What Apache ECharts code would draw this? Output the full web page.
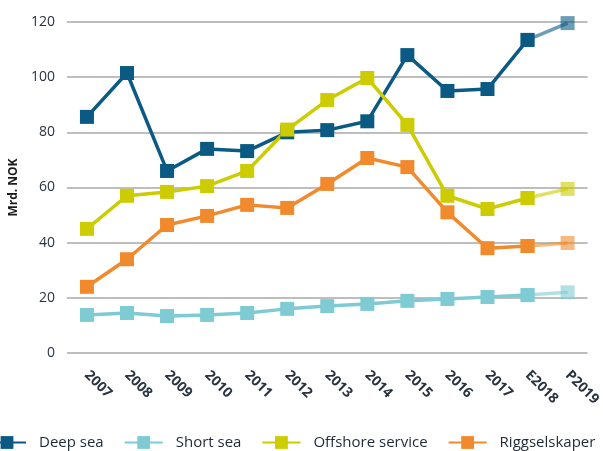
<!DOCTYPE html>
<html>
<head>
    <meta charset="utf-8"/>
    <title>Mrd. NOK</title>
    <style>
        html, body { margin: 0; padding: 0; background: #fff; }
        #chart { width: 603px; height: 451px; }
    </style>
</head>
<body>
<div id="chart"></div>
<script src="https://cdn.jsdelivr.net/npm/echarts@6/dist/echarts.min.js"></script>
<script>
    // 数据
    var years = ['2007', '2008', '2009', '2010', '2011', '2012', '2013', '2014', '2015', '2016', '2017', 'E2018', 'P2019'];
    var deepSea = [85.6, 101.5, 66, 74, 73.2, 80, 80.8, 84, 108, 95, 95.7, 113.5, 119.6];
    var shortSea = [13.8, 14.5, 13.4, 13.8, 14.5, 16, 17, 17.8, 18.9, 19.6, 20.3, 21, 22];
    var offshore = [45, 57, 58.4, 60.5, 66, 81, 91.7, 99.7, 82.7, 57, 52.2, 56.2, 59.5];
    var rigg = [24, 34, 46.4, 49.7, 53.7, 52.6, 61.3, 70.7, 67.4, 51, 38, 38.8, 39.9];
    var yTicks = [0, 20, 40, 60, 80, 100, 120];

    var names = ['Deep sea', 'Short sea', 'Offshore service', 'Riggselskaper'];
    var colors = ['#0b5a84', '#7ecbd4', '#cccc00', '#f08a2c'];
    var values = [deepSea, shortSea, offshore, rigg];

    var chart = echarts.init(document.getElementById('chart'));

    // 实线部分 + 最后一段（预测）淡色
    var series = [];
    var last = years.length - 1;
    for (var i = 0; i < values.length; i++) {
        var solid = values[i].map(function (v, k) { return k < last ? v : null; });
        var proj = values[i].map(function (v, k) { return k >= last - 1 ? v : null; });
        series.push({
            name: names[i],
            type: 'line',
            data: solid,
            symbol: 'rect',
            symbolSize: 14,
            z: 3,
            itemStyle: { color: colors[i] },
            lineStyle: { color: colors[i], width: 3.5 }
        });
        series.push({
            name: names[i] + ' P',
            type: 'line',
            data: proj,
            symbol: 'rect',
            symbolSize: 14,
            z: 2,
            itemStyle: { color: colors[i], opacity: 0.6 },
            lineStyle: { color: colors[i], width: 3.5, opacity: 0.6 }
        });
    }

    var option = {
        animation: false,
        grid: { left: 64, right: 5, top: 22, bottom: 98 },
        legend: {
            data: names,
            top: 430,
            left: -18,
            itemWidth: 38,
            itemHeight: 16,
            itemGap: 20,
            textStyle: { fontSize: 15, fontWeight: 500, color: '#1f2a38', fontFamily: 'Open Sans', padding: [0, 0, 0, 8] }
        },
        xAxis: {
            type: 'category',
            data: years,
            axisLine: { show: false },
            axisTick: { show: false },
            axisLabel: {
                interval: 0,
                rotate: -45,
                margin: 20,
                fontSize: 14,
                fontWeight: 'bold',
                color: '#2a3340',
                fontFamily: 'Open Sans'
            }
        },
        yAxis: {
            type: 'value',
            min: yTicks[0],
            max: yTicks[yTicks.length - 1],
            interval: 20,
            name: 'Mrd. NOK',
            nameLocation: 'middle',
            nameGap: 44,
            nameTextStyle: { fontSize: 12, fontWeight: 'bold', color: '#1a1a1a', fontFamily: 'Open Sans' },
            axisLine: { show: false },
            axisTick: { show: false },
            axisLabel: { fontSize: 14, color: '#2a3340', margin: 12, fontFamily: 'Open Sans' },
            splitLine: { lineStyle: { color: '#a8a8a8', width: 1.5 } }
        },
        series: series
    };
    chart.setOption(option);
</script>
</body>
</html>
